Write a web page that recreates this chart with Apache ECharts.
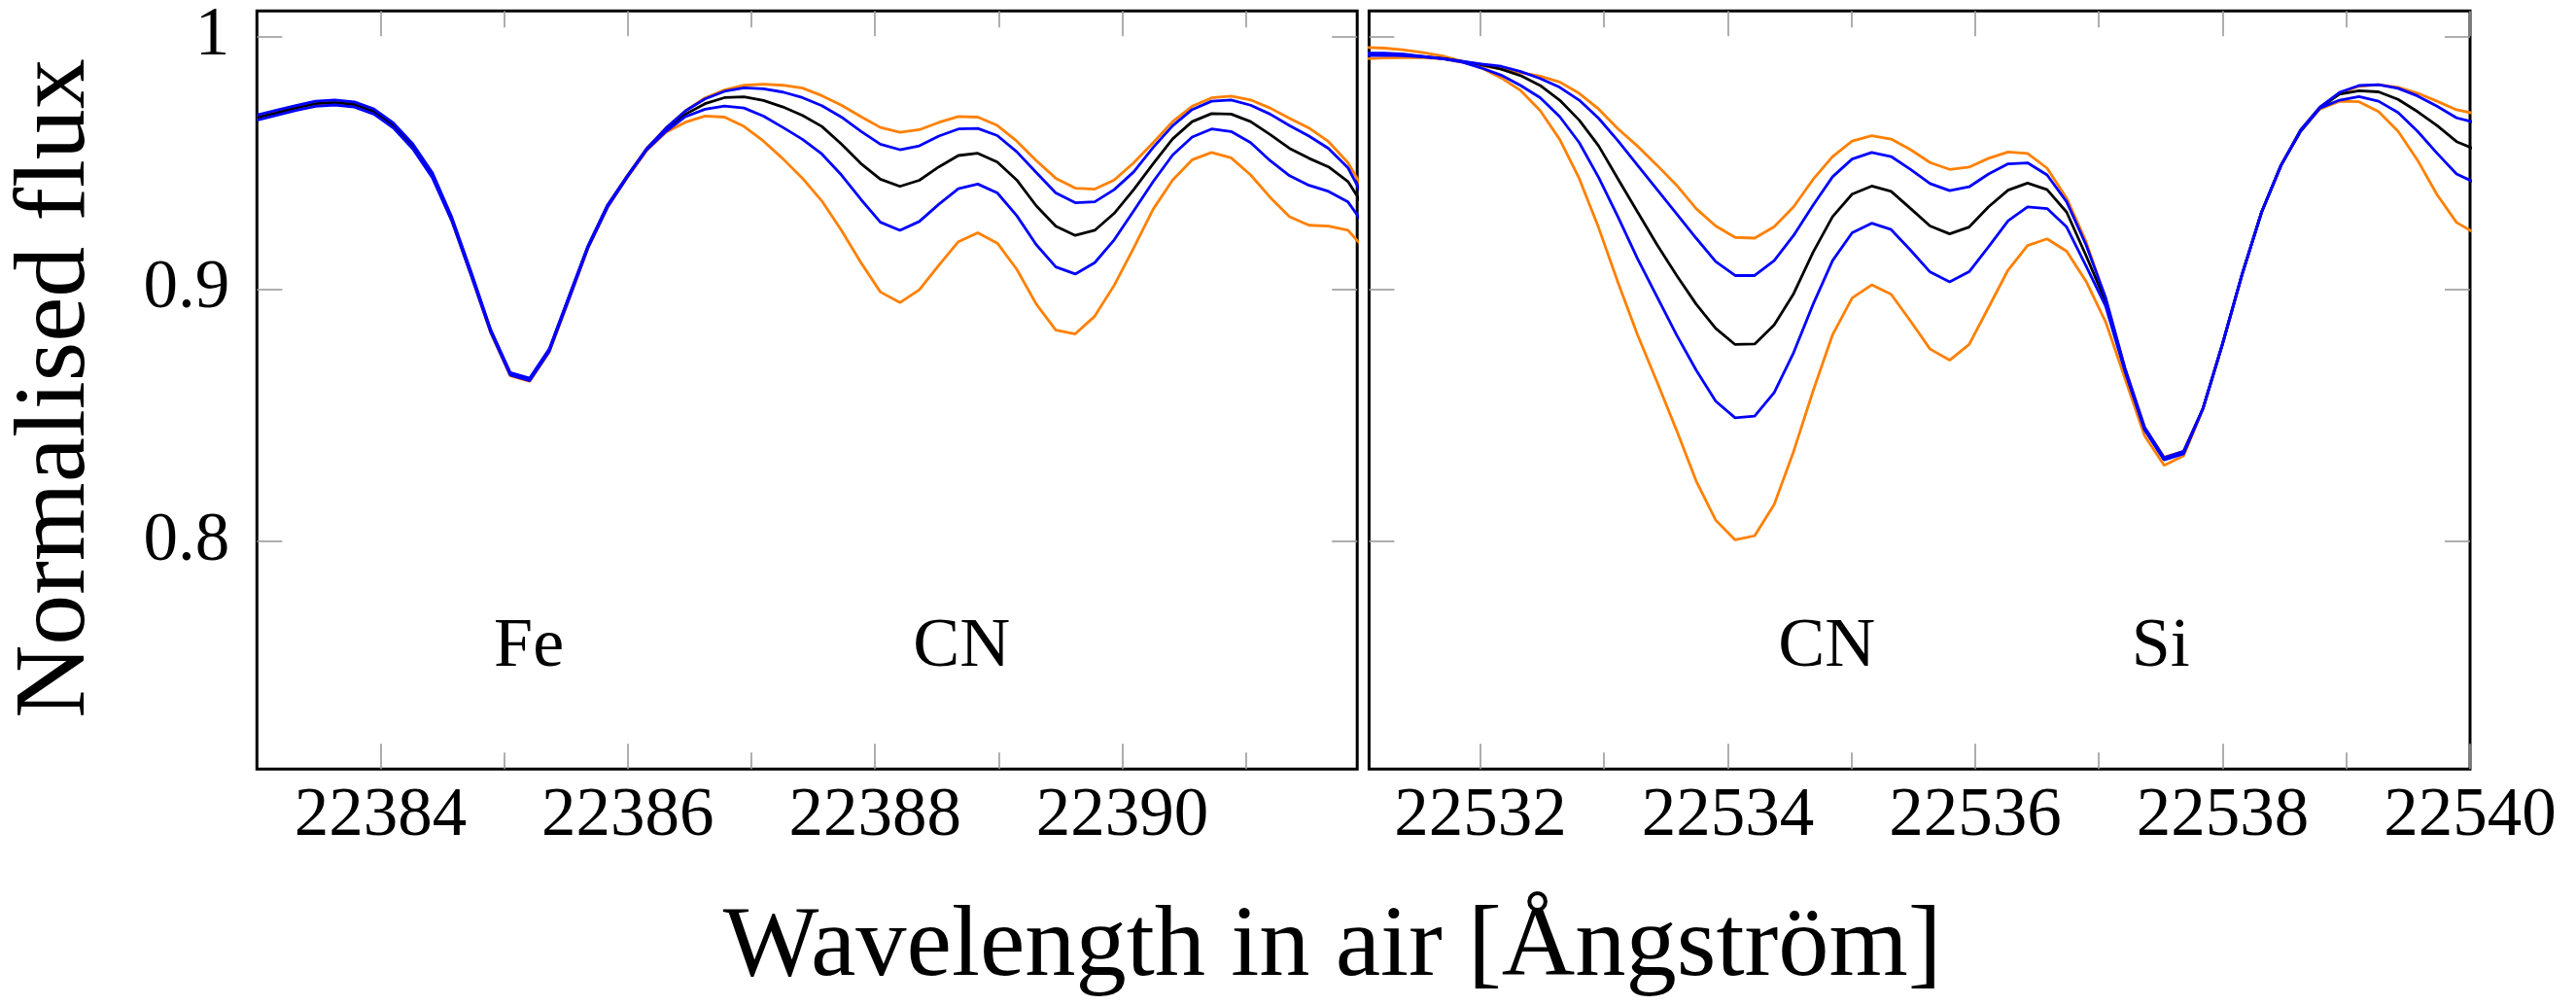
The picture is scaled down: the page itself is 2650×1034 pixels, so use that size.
<!DOCTYPE html>
<html>
<head>
<meta charset="utf-8">
<script src="https://cdn.jsdelivr.net/npm/echarts@6/dist/echarts.min.js"></script>
<style>
  html, body { margin: 0; padding: 0; background: #ffffff; }
  #chart { width: 2650px; height: 1034px; }
</style>
</head>
<body>
<div id="chart"></div>
<script>
// Synthetic spectra around Fe 22385 / CN (left window) and CN / Si 22537.5 (right window).
// Five models per window: two weaker-CN, best fit, two stronger-CN.

// Wavelength grids in air (Ångström)
const waveA = [
  22383.000, 22383.158, 22383.315, 22383.473, 22383.630, 22383.788, 22383.946, 22384.103, 22384.261, 22384.418,
  22384.576, 22384.734, 22384.891, 22385.049, 22385.206, 22385.364, 22385.522, 22385.679, 22385.837, 22385.994,
  22386.152, 22386.310, 22386.467, 22386.625, 22386.782, 22386.940, 22387.098, 22387.255, 22387.413, 22387.570,
  22387.728, 22387.886, 22388.043, 22388.201, 22388.358, 22388.516, 22388.674, 22388.831, 22388.989, 22389.146,
  22389.304, 22389.462, 22389.619, 22389.777, 22389.934, 22390.092, 22390.250, 22390.407, 22390.565, 22390.722,
  22390.880, 22391.038, 22391.195, 22391.353, 22391.510, 22391.668, 22391.826, 22391.983
];
const waveB = [
  22531.065, 22531.223, 22531.380, 22531.538, 22531.695, 22531.853, 22532.011, 22532.168, 22532.326, 22532.483,
  22532.641, 22532.799, 22532.956, 22533.114, 22533.271, 22533.429, 22533.587, 22533.744, 22533.902, 22534.059,
  22534.217, 22534.375, 22534.532, 22534.690, 22534.847, 22535.005, 22535.163, 22535.320, 22535.478, 22535.635,
  22535.793, 22535.951, 22536.108, 22536.266, 22536.423, 22536.581, 22536.739, 22536.896, 22537.054, 22537.211,
  22537.369, 22537.527, 22537.684, 22537.842, 22537.999, 22538.157, 22538.315, 22538.472, 22538.630, 22538.787,
  22538.945, 22539.103, 22539.260, 22539.418, 22539.575, 22539.733, 22539.891, 22540.048
];

// Left window fluxes
const fluxA_weak2 = [
  0.9682, 0.9701, 0.9720, 0.9737, 0.9742, 0.9734, 0.9706, 0.9651, 0.9568, 0.9455,
  0.9280, 0.9061, 0.8836, 0.8666, 0.8644, 0.8759, 0.8965, 0.9170, 0.9332, 0.9447,
  0.9556, 0.9637, 0.9705, 0.9756, 0.9787, 0.9806, 0.9810, 0.9806, 0.9795, 0.9765,
  0.9727, 0.9682, 0.9639, 0.9620, 0.9630, 0.9659, 0.9682, 0.9680, 0.9647, 0.9585,
  0.9508, 0.9438, 0.9399, 0.9395, 0.9431, 0.9499, 0.9579, 0.9662, 0.9723, 0.9756,
  0.9763, 0.9748, 0.9716, 0.9675, 0.9637, 0.9583, 0.9499, 0.9367
];
const fluxA_weak1 = [
  0.9688, 0.9707, 0.9726, 0.9743, 0.9748, 0.9740, 0.9712, 0.9657, 0.9574, 0.9461,
  0.9284, 0.9066, 0.8839, 0.8669, 0.8647, 0.8762, 0.8968, 0.9172, 0.9333, 0.9446,
  0.9555, 0.9637, 0.9705, 0.9752, 0.9782, 0.9796, 0.9792, 0.9779, 0.9757, 0.9725,
  0.9680, 0.9624, 0.9573, 0.9551, 0.9566, 0.9605, 0.9633, 0.9635, 0.9607, 0.9543,
  0.9461, 0.9380, 0.9341, 0.9345, 0.9393, 0.9463, 0.9560, 0.9646, 0.9710, 0.9743,
  0.9748, 0.9727, 0.9692, 0.9646, 0.9605, 0.9556, 0.9479, 0.9334
];
const fluxA_best = [
  0.9678, 0.9697, 0.9716, 0.9733, 0.9738, 0.9730, 0.9702, 0.9647, 0.9564, 0.9451,
  0.9277, 0.9059, 0.8834, 0.8664, 0.8642, 0.8757, 0.8963, 0.9168, 0.9329, 0.9444,
  0.9553, 0.9630, 0.9692, 0.9733, 0.9757, 0.9760, 0.9746, 0.9720, 0.9687, 0.9643,
  0.9573, 0.9496, 0.9434, 0.9406, 0.9430, 0.9483, 0.9528, 0.9537, 0.9502, 0.9431,
  0.9329, 0.9248, 0.9212, 0.9232, 0.9299, 0.9393, 0.9496, 0.9594, 0.9662, 0.9694,
  0.9692, 0.9662, 0.9611, 0.9556, 0.9517, 0.9483, 0.9425, 0.9302
];
const fluxA_strong1 = [
  0.9668, 0.9687, 0.9706, 0.9723, 0.9728, 0.9720, 0.9692, 0.9637, 0.9554, 0.9441,
  0.9270, 0.9052, 0.8829, 0.8659, 0.8637, 0.8752, 0.8958, 0.9164, 0.9325, 0.9442,
  0.9550, 0.9624, 0.9682, 0.9711, 0.9724, 0.9716, 0.9684, 0.9639, 0.9592, 0.9534,
  0.9451, 0.9354, 0.9264, 0.9232, 0.9267, 0.9335, 0.9397, 0.9415, 0.9380, 0.9290,
  0.9175, 0.9087, 0.9059, 0.9104, 0.9194, 0.9309, 0.9425, 0.9530, 0.9601, 0.9633,
  0.9623, 0.9579, 0.9508, 0.9448, 0.9410, 0.9386, 0.9344, 0.9236
];
const fluxA_strong2 = [
  0.9674, 0.9693, 0.9712, 0.9729, 0.9734, 0.9726, 0.9698, 0.9643, 0.9560, 0.9447,
  0.9269, 0.9051, 0.8826, 0.8656, 0.8634, 0.8749, 0.8955, 0.9162, 0.9323, 0.9440,
  0.9547, 0.9620, 0.9660, 0.9684, 0.9680, 0.9643, 0.9585, 0.9515, 0.9438, 0.9348,
  0.9232, 0.9104, 0.8988, 0.8946, 0.8997, 0.9094, 0.9187, 0.9222, 0.9181, 0.9078,
  0.8940, 0.8837, 0.8822, 0.8892, 0.9014, 0.9162, 0.9316, 0.9431, 0.9511, 0.9540,
  0.9519, 0.9451, 0.9363, 0.9286, 0.9252, 0.9249, 0.9232, 0.9146
];

// Right window fluxes
const fluxB_weak2 = [
  0.9911, 0.9914, 0.9915, 0.9915, 0.9911, 0.9897, 0.9883, 0.9871, 0.9856, 0.9842,
  0.9819, 0.9774, 0.9712, 0.9633, 0.9565, 0.9489, 0.9410, 0.9318, 0.9249, 0.9204,
  0.9201, 0.9246, 0.9325, 0.9434, 0.9524, 0.9585, 0.9606, 0.9593, 0.9551, 0.9500,
  0.9473, 0.9482, 0.9517, 0.9542, 0.9536, 0.9478, 0.9359, 0.9187, 0.8960, 0.8686,
  0.8453, 0.8334, 0.8357, 0.8528, 0.8782, 0.9057, 0.9304, 0.9489, 0.9629, 0.9720,
  0.9774, 0.9802, 0.9808, 0.9798, 0.9775, 0.9743, 0.9709, 0.9693
];
const fluxB_weak1 = [
  0.9924, 0.9925, 0.9923, 0.9918, 0.9911, 0.9901, 0.9890, 0.9881, 0.9860, 0.9833,
  0.9798, 0.9747, 0.9675, 0.9585, 0.9489, 0.9393, 0.9297, 0.9201, 0.9108, 0.9053,
  0.9053, 0.9112, 0.9212, 0.9332, 0.9444, 0.9514, 0.9540, 0.9524, 0.9473, 0.9417,
  0.9389, 0.9404, 0.9455, 0.9495, 0.9499, 0.9451, 0.9345, 0.9174, 0.8966, 0.8686,
  0.8453, 0.8332, 0.8357, 0.8528, 0.8782, 0.9057, 0.9304, 0.9489, 0.9629, 0.9720,
  0.9778, 0.9805, 0.9808, 0.9794, 0.9764, 0.9723, 0.9677, 0.9658
];
const fluxB_best = [
  0.9929, 0.9929, 0.9926, 0.9920, 0.9912, 0.9901, 0.9887, 0.9870, 0.9844, 0.9805,
  0.9747, 0.9668, 0.9566, 0.9434, 0.9304, 0.9174, 0.9053, 0.8940, 0.8844, 0.8780,
  0.8782, 0.8858, 0.8981, 0.9146, 0.9286, 0.9375, 0.9407, 0.9386, 0.9318, 0.9249,
  0.9218, 0.9245, 0.9325, 0.9391, 0.9419, 0.9393, 0.9304, 0.9132, 0.8950, 0.8680,
  0.8446, 0.8325, 0.8350, 0.8528, 0.8782, 0.9057, 0.9304, 0.9489, 0.9624, 0.9717,
  0.9771, 0.9784, 0.9780, 0.9750, 0.9702, 0.9647, 0.9583, 0.9551
];
const fluxB_strong1 = [
  0.9933, 0.9933, 0.9929, 0.9920, 0.9911, 0.9898, 0.9874, 0.9846, 0.9805, 0.9757,
  0.9682, 0.9579, 0.9441, 0.9283, 0.9119, 0.8968, 0.8817, 0.8679, 0.8556, 0.8490,
  0.8497, 0.8590, 0.8748, 0.8940, 0.9112, 0.9222, 0.9260, 0.9235, 0.9153, 0.9067,
  0.9028, 0.9068, 0.9167, 0.9270, 0.9325, 0.9318, 0.9245, 0.9091, 0.8932, 0.8673,
  0.8442, 0.8323, 0.8347, 0.8528, 0.8782, 0.9057, 0.9304, 0.9489, 0.9624, 0.9716,
  0.9747, 0.9761, 0.9743, 0.9698, 0.9624, 0.9537, 0.9455, 0.9419
];
const fluxB_strong2 = [
  0.9956, 0.9953, 0.9946, 0.9935, 0.9922, 0.9901, 0.9874, 0.9835, 0.9785, 0.9706,
  0.9592, 0.9437, 0.9242, 0.9023, 0.8817, 0.8631, 0.8439, 0.8240, 0.8085, 0.8007,
  0.8023, 0.8147, 0.8357, 0.8597, 0.8819, 0.8964, 0.9016, 0.8979, 0.8872, 0.8762,
  0.8718, 0.8780, 0.8927, 0.9075, 0.9172, 0.9198, 0.9149, 0.9030, 0.8870, 0.8645,
  0.8419, 0.8302, 0.8339, 0.8526, 0.8780, 0.9057, 0.9304, 0.9489, 0.9624, 0.9712,
  0.9743, 0.9741, 0.9702, 0.9624, 0.9510, 0.9373, 0.9263, 0.9218
];

// Axis ranges and ticks
const rangeA = [22383, 22391.9];
const rangeB = [22531.1, 22540];
const fluxRange = [0.71, 1.01];
const yTicks = [0.8, 0.9, 1];
const xMajorA = [22384, 22386, 22388, 22390];
const xMinorA = [22385, 22387, 22389, 22391];
const xMajorB = [22532, 22534, 22536, 22538, 22540];
const xMinorB = [22533, 22535, 22537, 22539];

// Line identifications
const idNames = ['Fe', 'CN', 'CN', 'Si'];
const idWave = [22385.2, 22388.7, 22534.8, 22537.5];
const idFlux = [0.758, 0.758, 0.758, 0.758];
const idPanel = [0, 0, 1, 1];

const FONT = "'Liberation Serif', 'Times New Roman', serif";
const TICK_COLOR = '#9a9a9a';
const ORANGE = '#ff8000';
const BLUE = '#0000ff';
const BLACK = '#000000';

function tickStyle(values, len) {
  return { show: true, inside: true, length: len, customValues: values,
           lineStyle: { color: TICK_COLOR, width: 1.6 } };
}

function xAxesFor(gridIndex, range, major, minor) {
  const base = { type: 'value', gridIndex: gridIndex, min: range[0], max: range[1],
                 axisLine: { show: false, onZero: false }, splitLine: { show: false } };
  return [
    Object.assign({}, base, { position: 'bottom', axisTick: tickStyle(major, 26),
      axisLabel: { show: true, customValues: major, formatter: v => String(v),
                   fontFamily: FONT, fontSize: 71, color: '#000', margin: 14 } }),
    Object.assign({}, base, { position: 'bottom', axisTick: tickStyle(minor, 17), axisLabel: { show: false } }),
    Object.assign({}, base, { position: 'top', axisTick: tickStyle(major, 26), axisLabel: { show: false } }),
    Object.assign({}, base, { position: 'top', axisTick: tickStyle(minor, 17), axisLabel: { show: false } })
  ];
}

function yAxesFor(gridIndex, withLabels) {
  const base = { type: 'value', gridIndex: gridIndex, min: fluxRange[0], max: fluxRange[1],
                 axisLine: { show: false, onZero: false }, splitLine: { show: false } };
  return [
    Object.assign({}, base, { position: 'left', axisTick: tickStyle(yTicks, 26),
      axisLabel: withLabels
        ? { show: true, customValues: yTicks, formatter: v => String(v),
            fontFamily: FONT, fontSize: 71, color: '#000', margin: 28 }
        : { show: false } }),
    Object.assign({}, base, { position: 'right', axisTick: tickStyle(yTicks, 26), axisLabel: { show: false } })
  ];
}

function spectrum(wave, flux, color, xi, yi) {
  return {
    type: 'line', xAxisIndex: xi, yAxisIndex: yi,
    data: wave.map((w, i) => [w, flux[i]]),
    showSymbol: false, symbol: 'none', clip: true, silent: true, animation: false,
    lineStyle: { color: color, width: 2.8 }, itemStyle: { color: color }
  };
}

const panels = [
  { wave: waveA, sets: [fluxA_weak2, fluxA_strong2, fluxA_best, fluxA_weak1, fluxA_strong1], xi: 0, yi: 0 },
  { wave: waveB, sets: [fluxB_weak2, fluxB_strong2, fluxB_best, fluxB_weak1, fluxB_strong1], xi: 4, yi: 2 }
];
const setColors = [ORANGE, ORANGE, BLACK, BLUE, BLUE];

const series = [];
panels.forEach(p => {
  p.sets.forEach((f, k) => series.push(spectrum(p.wave, f, setColors[k], p.xi, p.yi)));
});
idNames.forEach((name, i) => {
  const p = panels[idPanel[i]];
  series.push({
    type: 'scatter', xAxisIndex: p.xi, yAxisIndex: p.yi, symbolSize: 0, silent: true, animation: false,
    itemStyle: { opacity: 1 },
    data: [[idWave[i], idFlux[i], name]],
    label: { show: true, position: [0, 0], align: 'center', verticalAlign: 'middle', opacity: 1,
             formatter: q => q.data[2], fontFamily: FONT, fontSize: 72, color: '#000' }
  });
});

const gridStyle = { show: true, borderColor: '#000', borderWidth: 3, backgroundColor: 'transparent' };

const option = {
  backgroundColor: '#ffffff',
  animation: false,
  grid: [
    Object.assign({ left: 264.3, top: 11.3, width: 1131.9, height: 779.9 }, gridStyle),
    Object.assign({ left: 1408.4, top: 11.3, width: 1132.6, height: 779.9 }, gridStyle)
  ],
  xAxis: xAxesFor(0, rangeA, xMajorA, xMinorA).concat(xAxesFor(1, rangeB, xMajorB, xMinorB)),
  yAxis: yAxesFor(0, true).concat(yAxesFor(1, false)),
  series: series,
  graphic: [
    { type: 'text', x: 1370.6, y: 975.5, silent: true,
      style: { text: 'Wavelength in air [Ångström]', fontFamily: FONT, fontSize: 104.5,
               fill: '#000', align: 'center', verticalAlign: 'middle' } },
    { type: 'text', x: 59, y: 399.5, rotation: Math.PI / 2, silent: true,
      style: { text: 'Normalised flux', fontFamily: FONT, fontSize: 104,
               fill: '#000', align: 'center', verticalAlign: 'middle' } }
  ]
};

const chart = echarts.init(document.getElementById('chart'), null, { renderer: 'canvas' });
chart.setOption(option);
</script>
</body>
</html>
